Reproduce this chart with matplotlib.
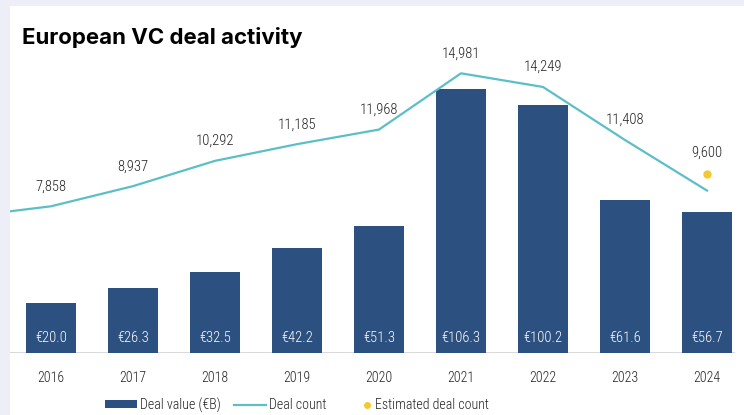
import matplotlib
matplotlib.use('Agg')
import matplotlib.pyplot as plt
from matplotlib.patches import Patch, Rectangle
from matplotlib.lines import Line2D
from matplotlib.legend_handler import HandlerLine2D

# deal value in EUR billions, one bar per year
years = [2016, 2017, 2018, 2019, 2020, 2021, 2022, 2023, 2024]
deal_value = [20.0, 26.3, 32.5, 42.2, 51.3, 106.3, 100.2, 61.6, 56.7]

# deal count line (starts one year earlier, cut off at the left edge)
count_years = [2015, 2016, 2017, 2018, 2019, 2020, 2021, 2022, 2023, 2024]
deal_count = [7320, 7858, 8937, 10292, 11185, 11968, 14981, 14249, 11408, 8700]
labelled_count = [7858, 8937, 10292, 11185, 11968, 14981, 14249, 11408]

est_year = 2024
est_count = 9600

BAR = '#2c5080'
LINE = '#5cbfc7'
DOT = '#f2c933'
TXT = '#222222'
narrow = ['Roboto Condensed', 'Open Sans Condensed', 'Noto Sans', 'DejaVu Sans']
font = dict(family=narrow, fontstretch='condensed', fontweight='light', fontsize=10.5)

fig = plt.figure(figsize=(7.44, 4.15), dpi=100, facecolor='#eeeef8')
fig.patches.append(Rectangle((10 / 744, 0), 1, 1 - 6 / 415, transform=fig.transFigure,
                             facecolor='white', edgecolor='none', zorder=-5))

ax = fig.add_axes([10 / 744, 1 - 353 / 415, 734 / 744, 303 / 415])
ax.set_facecolor('none')
ax2 = ax.twinx()

xs = list(range(len(years)))
ax.bar(xs, deal_value, width=0.62, color=BAR, zorder=2)
for x, v in zip(xs, deal_value):
    ax.annotate(f'€{v:.1f}', (x, 0), xytext=(0, 15), textcoords='offset pixels',
                ha='center', va='center', color='white', **font)
ax.axhline(0, xmin=0, xmax=724 / 734, color='#d2d2d2', lw=1.2, zorder=1)

cx = [y - years[0] for y in count_years]
ax2.plot(cx, deal_count, color=LINE, lw=1.6, zorder=3)
for y, v in zip(years, labelled_count):
    ax2.annotate(f'{v:,}', (y - years[0], v), xytext=(0, 20), textcoords='offset pixels',
                 ha='center', va='center', color=TXT, **font)
ex = est_year - years[0]
ax2.plot([ex], [est_count], 'o', color=DOT, ms=5, zorder=4)
ax2.annotate(f'{est_count:,}', (ex, est_count), xytext=(0, 21), textcoords='offset pixels',
             ha='center', va='center', color=TXT, **font)

ax.set_xlim(-0.5, -0.5 + 734 / 82)
ax.set_ylim(0, 303 / 2.48)
ax2.set_ylim(0, 303 / 0.01867)

ax.set_xticks(xs)
ax.set_xticklabels([str(y) for y in years], color=TXT, **{**font, 'fontsize': 10})
ax.tick_params(axis='x', length=0, pad=13)
ax.set_yticks([])
ax2.set_yticks([])
for a in (ax, ax2):
    for s in a.spines.values():
        s.set_visible(False)

fig.text(22 / 744, 1 - 38 / 415, 'European VC deal activity', fontsize=16,
         fontweight='bold', family='Inter', color='black', va='center', ha='left')


class DotHandler(HandlerLine2D):
    # single marker sits at the middle of xdata, so squeeze it to the right end
    def get_xdata(self, legend, xdescent, ydescent, width, height, fontsize):
        xdata = [-xdescent + width - 8, -xdescent + width]
        return xdata, xdata


handles = [Patch(facecolor=BAR, edgecolor='none'),
           Line2D([], [], color=LINE, lw=1.6),
           Line2D([], [], color=DOT, marker='o', ms=4, ls='none')]
labels = ['Deal value (€B)', 'Deal count', 'Estimated deal count']
fig.legend(handles, labels, loc='center', bbox_to_anchor=(297 / 744, 1 - 405 / 415),
           ncol=3, frameon=False, handlelength=2.3, handleheight=0.5,
           handletextpad=0.2, columnspacing=1.0, borderpad=0, numpoints=1,
           handler_map={handles[2]: DotHandler(numpoints=1)},
           prop={'family': narrow, 'stretch': 'condensed', 'weight': 'light', 'size': 10},
           labelcolor=TXT)

fig.savefig('out.png', dpi=100, facecolor=fig.get_facecolor())
